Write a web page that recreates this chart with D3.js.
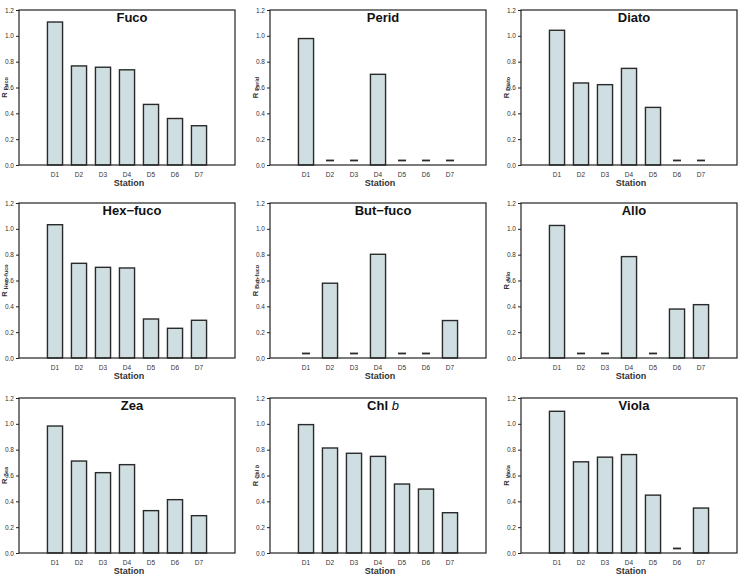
<!DOCTYPE html>
<html>
<head>
<meta charset="utf-8">
<script src="https://cdn.jsdelivr.net/npm/d3@7"></script>
<style>
  body { margin: 0; background: #fff; }
  svg { display: block; font-family: "Liberation Sans", Arial, sans-serif; }
  .tick text { fill: #333; }
</style>
</head>
<body>
<div id="chart"></div>
<script>
var stations = ["D1", "D2", "D3", "D4", "D5", "D6", "D7"];

// null = not detected (drawn as a short dash)
var fuco    = [1.107, 0.767, 0.757, 0.737, 0.469, 0.360, 0.304];
var perid   = [0.979, null, null, 0.702, null, null, null];
var diato   = [1.043, 0.635, 0.622, 0.748, 0.446, null, null];
var hexFuco = [1.032, 0.733, 0.702, 0.697, 0.302, 0.230, 0.292];
var butFuco = [null, 0.579, null, 0.803, null, null, 0.290];
var allo    = [1.026, null, null, 0.785, null, 0.379, 0.413];
var zea     = [0.983, 0.712, 0.622, 0.684, 0.328, 0.413, 0.289];
var chlB    = [0.994, 0.813, 0.772, 0.748, 0.534, 0.495, 0.312];
var viola   = [1.097, 0.706, 0.742, 0.762, 0.448, null, 0.348];

var panelNames = ["Fuco", "Perid", "Diato", "Hex\u2212fuco", "But\u2212fuco", "Allo", "Zea", "Chl b", "Viola"];
var panelValues = [fuco, perid, diato, hexFuco, butFuco, allo, zea, chlB, viola];

var yTicks = [0, 0.2, 0.4, 0.6, 0.8, 1.0, 1.2];
var ndLevel = 0.035;

var W = 742, H = 575;
var colLeft = [19, 270, 521],
    rowTop = [10, 203, 398],
    pw = 216, ph = 155;

var svg = d3.select("#chart").append("svg")
    .attr("width", W)
    .attr("height", H);

var x = d3.scaleBand()
    .domain(["", ...stations, " "])
    .range([0, pw])
    .paddingInner(0.37)
    .paddingOuter(0.185);

var y = d3.scaleLinear()
    .domain([0, 1.2])
    .range([ph, 0]);

panelNames.forEach(function(name, i) {
    var g = svg.append("g")
        .attr("transform", "translate(" + colLeft[i % 3] + "," + rowTop[Math.floor(i / 3)] + ")");
    var vals = panelValues[i];
    var data = stations.map(function(s, j) { return {station: s, value: vals[j]}; });

    // bars
    g.selectAll(".bar")
        .data(data.filter(function(d) { return d.value !== null; }))
        .enter().append("rect")
        .attr("class", "bar")
        .attr("x", function(d) { return x(d.station); })
        .attr("y", function(d) { return y(d.value); })
        .attr("width", x.bandwidth())
        .attr("height", function(d) { return y(0) - y(d.value); })
        .attr("fill", "#cfdee1")
        .attr("stroke", "#2a2a2a")
        .attr("stroke-width", 1.4);

    // not detected dashes
    g.selectAll(".nd")
        .data(data.filter(function(d) { return d.value === null; }))
        .enter().append("line")
        .attr("class", "nd")
        .attr("x1", function(d) { return x(d.station) + x.bandwidth() / 2 - 4; })
        .attr("x2", function(d) { return x(d.station) + x.bandwidth() / 2 + 4; })
        .attr("y1", y(ndLevel))
        .attr("y2", y(ndLevel))
        .attr("stroke", "#2a2a2a")
        .attr("stroke-width", 1.8);

    // frame
    g.append("rect")
        .attr("width", pw)
        .attr("height", ph)
        .attr("fill", "none")
        .attr("stroke", "#222")
        .attr("stroke-width", 1.2);

    // y axis
    var ya = g.append("g")
        .call(d3.axisLeft(y).tickValues(yTicks).tickSize(3).tickFormat(d3.format(".1f")));
    ya.select(".domain").remove();
    ya.selectAll(".tick line").attr("stroke", "#222");
    ya.selectAll(".tick text").attr("font-size", 6.5).attr("x", -5);

    // x tick labels
    var xa = g.append("g")
        .attr("transform", "translate(0," + ph + ")")
        .call(d3.axisBottom(x).tickValues(stations).tickSize(0));
    xa.select(".domain").remove();
    xa.selectAll(".tick text").attr("font-size", 6.5).attr("dy", "0.71em").attr("y", 7);

    g.append("text")
        .attr("x", pw / 2 + 2)
        .attr("y", ph + 20.5)
        .attr("text-anchor", "middle")
        .attr("font-size", 9)
        .attr("font-weight", "bold")
        .attr("fill", "#333")
        .text("Station");

    // title
    var t = g.append("text")
        .attr("x", pw / 2 + 5)
        .attr("y", 12)
        .attr("text-anchor", "middle")
        .attr("font-size", 13)
        .attr("font-weight", "bold")
        .attr("fill", "#111");
    if (name === "Chl b") {
        t.append("tspan").text("Chl ");
        t.append("tspan").attr("font-style", "italic").attr("font-weight", "normal").text("b");
    } else {
        t.text(name);
    }

    // y label, R with the pigment as subscript
    var yl = g.append("text")
        .attr("transform", "translate(-12.5," + (ph / 2) + ") rotate(-90)")
        .attr("text-anchor", "middle")
        .attr("font-size", 7.5)
        .attr("font-weight", "bold")
        .attr("fill", "#333");
    yl.append("tspan").text("R ");
    var sub = yl.append("tspan").attr("font-size", 5.5).attr("dy", 1.5);
    if (name === "Chl b") {
        sub.text("Chl ");
        yl.append("tspan").attr("font-size", 5.5).attr("font-style", "italic").text("b");
    } else {
        sub.text(name);
    }
});
</script>
</body>
</html>
